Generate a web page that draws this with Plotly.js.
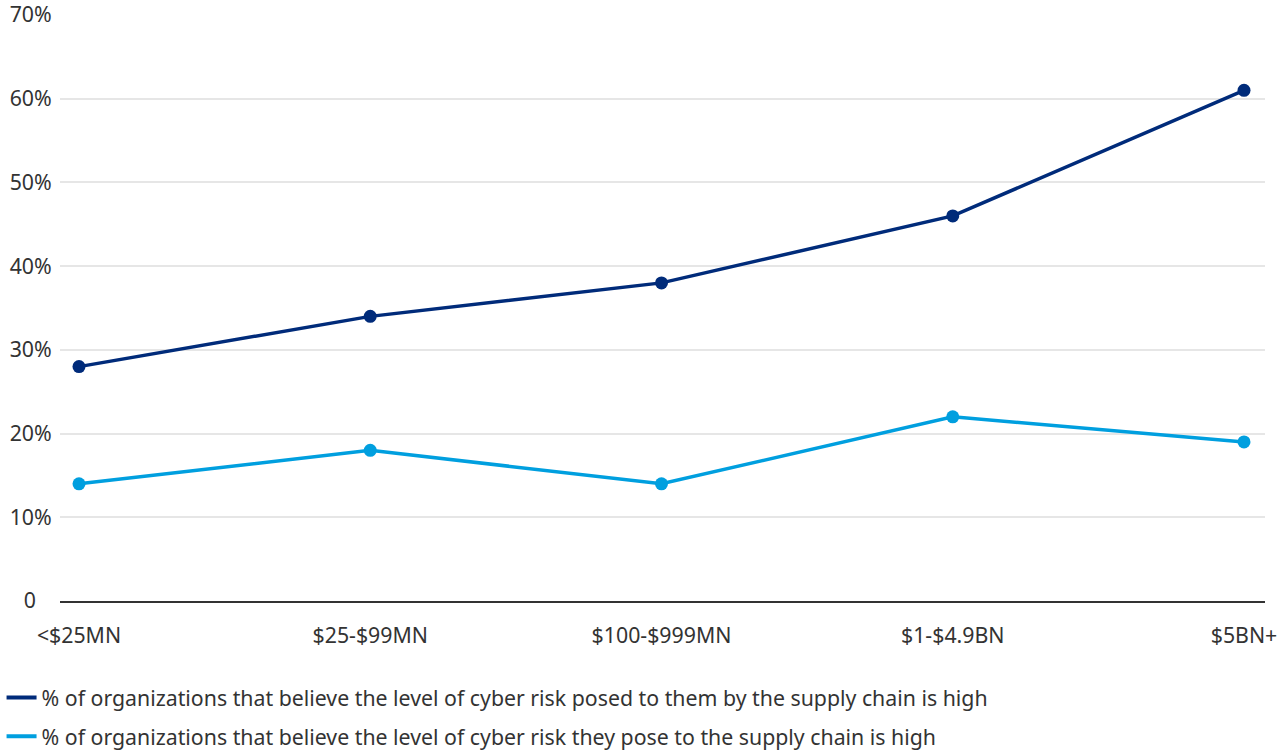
<!DOCTYPE html>
<html>
<head>
<meta charset="utf-8">
<script src="https://cdn.plot.ly/plotly-3.0.1.min.js"></script>
<style>html,body{margin:0;padding:0;background:#fff;}#chart{width:1283px;height:752px;}</style>
</head>
<body>
<div id="chart"></div>
<script>
const categories = ["<$25MN", "$25-$99MN", "$100-$999MN", "$1-$4.9BN", "$5BN+"];
const seriesNames = [
  "% of organizations that believe the level of cyber risk posed to them by the supply chain is high",
  "% of organizations that believe the level of cyber risk they pose to the supply chain is high"
];
const riskPosedToThem = [28, 34, 38, 46, 61];
const riskTheyPose = [14, 18, 14, 22, 19];
const yTickVals = [0, 10, 20, 30, 40, 50, 60, 70];
const yTickText = ["0", "10%", "20%", "30%", "40%", "50%", "60%", "70%"];
const colors = ["#002B7A", "#009FDF"];

const font = "'Noto Sans', 'Open Sans', sans-serif";
const fs = 21.3;
const xIdx = categories.map((c, i) => i);
// labels in the reference are centred in the left gutter: pad the short "0"
const yTickDisplay = yTickText.map(t => t.length === 1 ? t + "\u2007\u2009" : t);
const series = [riskPosedToThem, riskTheyPose];
const traces = [];
series.forEach((vals, k) => {
  traces.push({x: xIdx, y: vals, name: seriesNames[k], mode: "lines+markers", showlegend: false,
    legendgroup: "g" + k,
    line: {color: colors[k], width: 3.5}, marker: {color: colors[k], size: 13}});
});
series.forEach((vals, k) => {
  traces.push({x: [null], y: [null], name: seriesNames[k], mode: "lines", showlegend: true,
    legendgroup: "g" + k, line: {color: colors[k], width: 4}});
});
const layout = {
  width: 1283, height: 752,
  margin: {l: 60, r: 18, t: 15, b: 151, autoexpand: false},
  paper_bgcolor: "#fff", plot_bgcolor: "#fff",
  font: {family: font, size: fs, color: "#333"},
  showlegend: true,
  legend: {orientation: "v", x: -0.0485, xanchor: "left", y: -0.13, yanchor: "top",
           maxheight: 400,
           font: {family: font, size: fs, color: "#333"}, tracegroupgap: 8, itemwidth: 30},
  xaxis: {
    tickmode: "array", tickvals: xIdx, ticktext: categories,
    range: [-0.0652, 4.0721], showgrid: false, zeroline: false, automargin: false,
    showline: true, linecolor: "#333", linewidth: 2, ticks: "outside", ticklen: 14,
    tickcolor: "rgba(0,0,0,0)", ticklabeloverflow: "allow",
    tickfont: {family: font, size: fs, color: "#333"}, fixedrange: true
  },
  yaxis: {
    tickmode: "array", tickvals: yTickVals, ticktext: yTickDisplay, automargin: false,
    range: [0, 70], showgrid: true, gridcolor: "#e6e6e6", gridwidth: 2,
    zeroline: false, showline: false, ticks: "outside", ticklen: 3, tickcolor: "rgba(0,0,0,0)",
    ticklabeloverflow: "allow",
    tickfont: {family: font, size: fs, color: "#333"}, fixedrange: true
  }
};
Plotly.newPlot("chart", traces, layout, {displayModeBar: false, staticPlot: true});
</script>
</body>
</html>
